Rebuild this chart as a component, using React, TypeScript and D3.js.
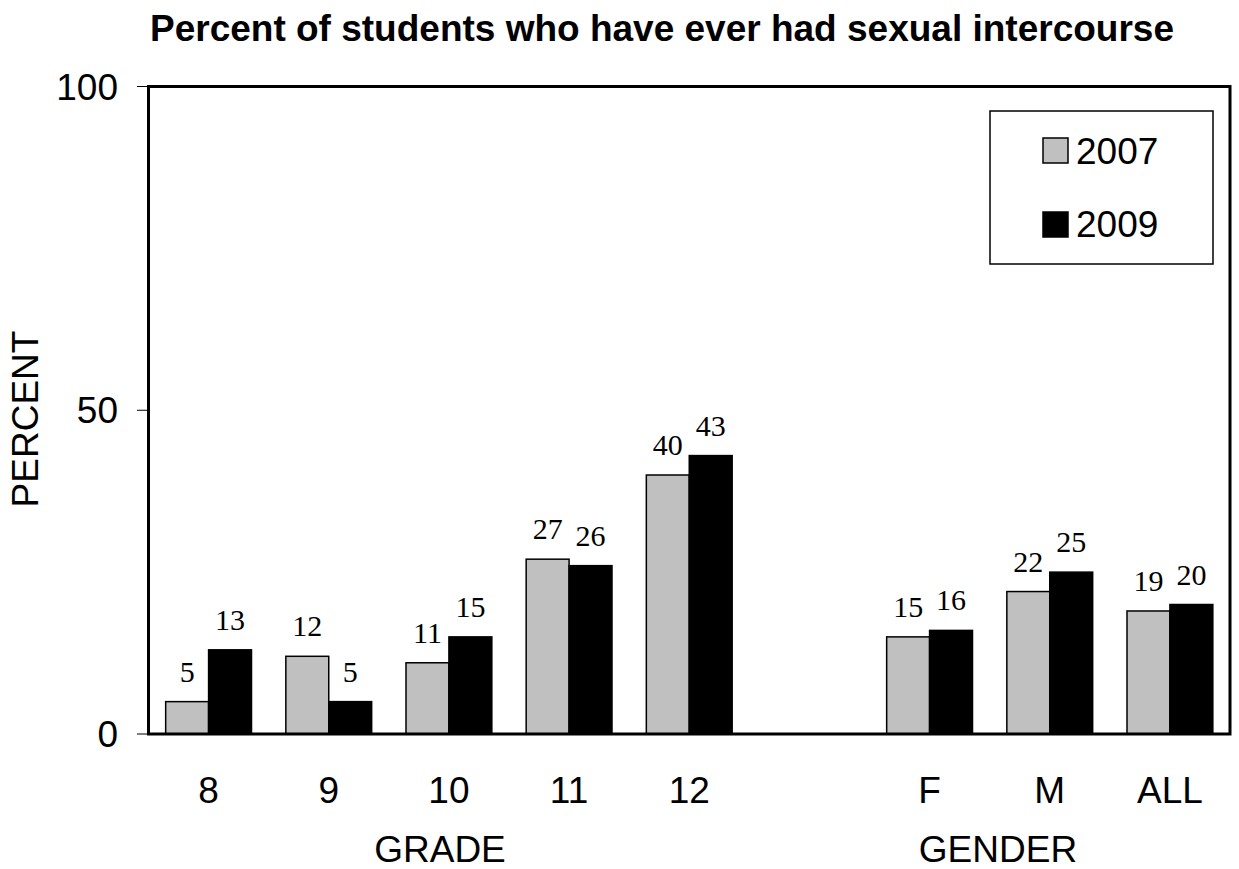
import React from "react";
import * as d3 from "d3";

const categories = ["8", "9", "10", "11", "12", "", "F", "M", "ALL"];
const series = ["2007", "2009"];
const values2007: (number | null)[] = [5, 12, 11, 27, 40, null, 15, 22, 19];
const values2009: (number | null)[] = [13, 5, 15, 26, 43, null, 16, 25, 20];
const yTicks = [0, 50, 100];
const groupLabels = [
  { text: "GRADE", x: 440 },
  { text: "GENDER", x: 998 },
];
const title = "Percent of students who have ever had sexual intercourse";

const W = 1239;
const H = 869;
const left = 148.5;
const right = 1230;
const top = 86.5;
const bottom = 734;

const colors: Record<string, string> = { "2007": "#c0c0c0", "2009": "#000000" };
const sans = "'Liberation Sans', Arial, Helvetica, sans-serif";
const serif = "'Liberation Serif', 'Times New Roman', Times, serif";

export default function App() {
  const keys = categories.map((c, i) => c + "#" + i);
  const x0 = d3.scaleBand<string>().domain(keys).range([left, right]).padding(0);
  const x1 = d3.scaleBand<string>().domain(series).range([0, x0.bandwidth()]).paddingInner(0).paddingOuter(0.4);
  const y = d3.scaleLinear().domain([0, 100]).range([bottom, top]);
  const data: Record<string, (number | null)[]> = { "2007": values2007, "2009": values2009 };

  return (
    <svg width={W} height={H} style={{ position: "absolute", left: 0, top: 0, background: "#fff" }}>
      <rect x={0} y={0} width={W} height={H} fill="#fff" />
      <text x={662} y={41} textAnchor="middle" fontFamily={sans} fontWeight="bold" fontSize={37}>
        {title}
      </text>
      {series.map((s) =>
        keys.map((k, i) => {
          const v = data[s][i];
          if (v == null) return null;
          const bx = (x0(k) as number) + (x1(s) as number);
          return (
            <g key={s + k}>
              <rect
                x={bx}
                y={y(v)}
                width={x1.bandwidth()}
                height={bottom - y(v)}
                fill={colors[s]}
                stroke="#000"
                strokeWidth={1.5}
              />
              <text
                x={bx + x1.bandwidth() / 2}
                y={y(v) - 20}
                textAnchor="middle"
                fontFamily={serif}
                fontSize={30}
              >
                {v}
              </text>
            </g>
          );
        })
      )}
      <rect x={left} y={top} width={right - left} height={bottom - top} fill="none" stroke="#000" strokeWidth={3} />
      {yTicks.map((t) => (
        <g key={t}>
          <line x1={137} x2={left} y1={y(t)} y2={y(t)} stroke="#000" strokeWidth={1} />
          <text x={118} y={y(t) + 13} textAnchor="end" fontFamily={sans} fontSize={37}>
            {t}
          </text>
        </g>
      ))}
      <text transform={`translate(38,419) rotate(-90)`} textAnchor="middle" fontFamily={sans} fontSize={37}>
        PERCENT
      </text>
      {keys.map((k, i) =>
        categories[i] ? (
          <text
            key={k}
            x={(x0(k) as number) + x0.bandwidth() / 2}
            y={803}
            textAnchor="middle"
            fontFamily={sans}
            fontSize={37}
          >
            {categories[i]}
          </text>
        ) : null
      )}
      {groupLabels.map((g) => (
        <text key={g.text} x={g.x} y={862} textAnchor="middle" fontFamily={sans} fontSize={37}>
          {g.text}
        </text>
      ))}
      <rect x={990} y={111} width={223} height={153} fill="#fff" stroke="#000" strokeWidth={1.5} />
      {series.map((s, i) => (
        <g key={s}>
          <rect x={1043} y={138 + i * 74} width={25} height={25} fill={colors[s]} stroke="#000" strokeWidth={1.5} />
          <text x={1076} y={164 + i * 73} fontFamily={sans} fontSize={37}>
            {s}
          </text>
        </g>
      ))}
    </svg>
  );
}
